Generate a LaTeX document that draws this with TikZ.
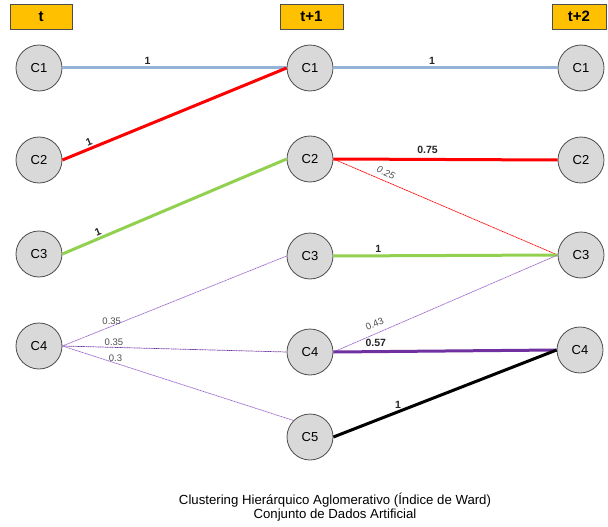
\documentclass[tikz,border=0pt]{standalone}
\usepackage{fontspec}
\setmainfont{Liberation Sans}
\usetikzlibrary{positioning}
\definecolor{headfill}{HTML}{FFC000}
\definecolor{nodefill}{HTML}{D9D9D9}
\definecolor{nodeline}{HTML}{4D4D4D}
\definecolor{linkblue}{HTML}{95B3D7}
\definecolor{linkred}{HTML}{FF0000}
\definecolor{linkgreen}{HTML}{92D050}
\definecolor{linkpurple}{HTML}{7030A0}
\definecolor{weakpurple}{HTML}{9966CC}
\begin{document}
\begin{tikzpicture}[x=1pt,y=-1pt,
  state node/.style={circle,draw=nodeline,fill=nodefill,line width=0.8pt,minimum size=46pt,inner sep=0pt,font=\fontsize{13}{15}\selectfont},
  time node/.style={rectangle,draw=nodeline,fill=headfill,line width=0.8pt,minimum height=25pt,inner sep=0pt,font=\fontsize{15}{17}\selectfont\bfseries},
  strong/.style={line width=3pt},
  weak/.style={line width=0.7pt,dash pattern=on 1.2pt off 0.5pt},
  wlabel/.style={font=\fontsize{10.5}{12}\selectfont\bfseries,text=black!85,inner sep=1.5pt},
  slabel/.style={font=\fontsize{9.5}{11}\selectfont,text=black!70,inner sep=1.5pt}]
  \useasboundingbox (0,0) rectangle (608,527);

  % time steps
  \node[time node,minimum width=62pt] (t0) at (41,16.5) {t};
  \node[time node,minimum width=63pt] (t1) at (311.5,16.5) {t+1};
  \node[time node,minimum width=54pt] (t2) at (579,16.5) {t+2};

  % clusters at t
  \node[state node] (a1) at (39,68) {C1};
  \node[state node] (a2) at (39,160) {C2};
  \node[state node] (a3) at (39,254) {C3};
  \node[state node] (a4) at (39,346) {C4};

  % clusters at t+1
  \node[state node] (b1) at (310,68) {C1};
  \node[state node] (b2) at (310,159) {C2};
  \node[state node] (b3) at (310,256) {C3};
  \node[state node] (b4) at (310,352) {C4};
  \node[state node] (b5) at (310,437) {C5};

  % clusters at t+2
  \node[state node] (c1) at (581,68) {C1};
  \node[state node] (c2) at (581,160) {C2};
  \node[state node] (c3) at (581,255) {C3};
  \node[state node] (c4) at (580,350) {C4};

  % t -> t+1
  \path
   (a1.east) edge[strong,linkblue] node[wlabel,above,pos=0.38]{1} (b1.west)
   (a2.east) edge[strong,linkred] node[wlabel,above,sloped,pos=0.13]{1} (b1.west)
   (a3.east) edge[strong,linkgreen] node[wlabel,above,sloped,pos=0.17]{1} (b2.west)
   (a4.east) edge[weak,weakpurple] node[slabel,above,pos=0.22]{0.35} (b3.west)
   (a4.east) edge[weak,linkpurple] node[slabel,above,pos=0.23]{0.35} (b4.west)
   (a4.east) edge[weak,weakpurple] node[slabel,above,pos=0.23]{0.3} (b5.north west);

  % t+1 -> t+2
  \path
   (b1.east) edge[strong,linkblue] node[wlabel,above,pos=0.44]{1} (c1.west)
   (b2.east) edge[strong,linkred] node[wlabel,above=3pt,pos=0.42]{0.75} (c2.west)
   (b2.east) edge[weak,linkred] node[slabel,above=3pt,sloped,pos=0.22]{\itshape 0.25} (c3.west)
   (b3.east) edge[strong,linkgreen] node[wlabel,above,pos=0.2]{1} (c3.west)
   (b4.east) edge[weak,weakpurple] node[slabel,above=4pt,sloped,pos=0.2]{0.43} (c3.west)
   (b4.east) edge[strong,linkpurple] node[wlabel,above=2pt,pos=0.19]{0.57} (c4.west)
   (b5.east) edge[strong,black] node[wlabel,above,pos=0.29]{1} (c4.west);

  \node[font=\fontsize{13.2}{15}\selectfont,inner sep=0pt] (cap1) at (335,500) {Clustering Hierárquico Aglomerativo (Índice de Ward)};
  \node[font=\fontsize{13.2}{15}\selectfont,below=1pt of cap1,inner sep=0pt] (cap2) {Conjunto de Dados Artificial};
\end{tikzpicture}
\end{document}
